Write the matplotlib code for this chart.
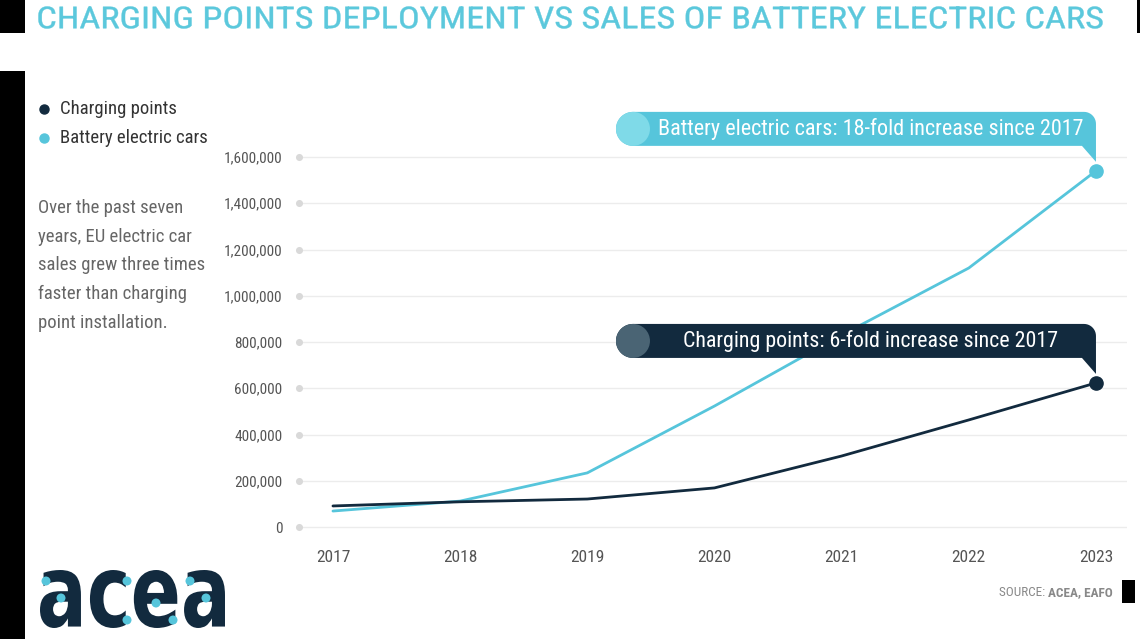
import numpy as np
import matplotlib
matplotlib.use("Agg")
import matplotlib.pyplot as plt
import matplotlib.patches as mpatches
import matplotlib.transforms as mtransforms
from matplotlib import font_manager as fm
from matplotlib.lines import Line2D
from matplotlib.textpath import TextPath
from matplotlib.ticker import FuncFormatter

# ---- data ----
years = [2017, 2018, 2019, 2020, 2021, 2022, 2023]
charging_points = [91000, 109000, 121000, 169000, 307000, 463000, 623000]
bev_sales = [69000, 112000, 234000, 523000, 830000, 1120000, 1540000]
y_ticks = [0, 200000, 400000, 600000, 800000, 1000000, 1200000, 1400000, 1600000]

title = "CHARGING POINTS DEPLOYMENT VS SALES OF BATTERY ELECTRIC CARS"
legend_labels = ["Charging points", "Battery electric cars"]
note = ("Over the past seven\nyears, EU electric car\nsales grew three times\n"
        "faster than charging\npoint installation.")
bev_note = "Battery electric cars: 18-fold increase since 2017"
cp_note = "Charging points: 6-fold increase since 2017"

CYAN = "#56c5db"
CYAN_LIGHT = "#7fdae8"
NAVY = "#122a3e"
NAVY_LIGHT = "#4a6474"
GREY_TXT = "#555555"

names = {f.name for f in fm.fontManager.ttflist}
NARROW = "DejaVu Sans"
for cand in ["Roboto Condensed", "Liberation Sans Narrow", "Roboto"]:
    if cand in names:
        NARROW = cand
        break

W, H = 1140, 639
fig = plt.figure(figsize=(W / 100, H / 100), dpi=100)
fig.patch.set_facecolor("white")
PIX = mtransforms.IdentityTransform()


def px(x, y):
    # pixel position measured from top-left -> figure fraction
    return x / W, 1 - y / H


# ---- main axes ----
ax = fig.add_axes([299 / W, 99 / H, 828 / W, 400 / H])
ax.set_xlim(2016.733, 2023.244)
ax.set_ylim(-56216, 1673514)
for s in ax.spines.values():
    s.set_visible(False)
ax.set_yticks(y_ticks)
ax.yaxis.set_major_formatter(FuncFormatter(lambda v, p: f"{int(v):,}"))
ax.set_xticks(years)
ax.tick_params(length=0, colors=GREY_TXT)
ax.tick_params(axis="y", pad=12)
ax.tick_params(axis="x", pad=7)
for lab in ax.get_yticklabels():
    lab.set_fontfamily(NARROW)
    lab.set_fontsize(11)
for lab in ax.get_xticklabels():
    lab.set_fontfamily(NARROW)
    lab.set_fontsize(12.5)
ax.grid(axis="y", color="#ececec", lw=1)
ax.set_axisbelow(True)
ax.scatter([ax.get_xlim()[0]] * len(y_ticks), y_ticks, s=26, color="#d9d9d9",
           clip_on=False, zorder=2, linewidths=0)

ax.plot(years, bev_sales, color=CYAN, lw=2, zorder=3, solid_capstyle="round")
ax.plot(years, charging_points, color=NAVY, lw=2, zorder=3, solid_capstyle="round")
ax.plot(years[-1], bev_sales[-1], "o", color=CYAN, ms=9.5, zorder=4, clip_on=False)
ax.plot(years[-1], charging_points[-1], "o", color=NAVY, ms=9.5, zorder=4, clip_on=False)


def bubble(xv, yv, text, color, light, fs):
    # speech bubble whose tail points at the data point (offsets in pixels)
    tr = mtransforms.ScaledTranslation(xv, yv, ax.transData)
    L, R, B, T = -480, 0, 25, 59
    r = (T - B) / 2
    rr = 12
    pts = [(L + r, B), (R - 14, B), (R, 9), (R, T - rr)]
    a = np.linspace(0, np.pi / 2, 12)
    pts += [(R - rr + rr * np.cos(t), T - rr + rr * np.sin(t)) for t in a]
    pts += [(L + r, T)]
    a = np.linspace(np.pi / 2, 3 * np.pi / 2, 24)
    pts += [(L + r + r * np.cos(t), B + r + r * np.sin(t)) for t in a]
    ax.add_patch(mpatches.Polygon(pts, closed=True, facecolor=color, edgecolor="none",
                                  transform=tr, clip_on=False, zorder=5))
    ax.add_patch(mpatches.Circle((L + r, B + r), r, facecolor=light, edgecolor="none",
                                 transform=tr, clip_on=False, zorder=6))
    ax.text(-225, B + r, text, transform=tr, ha="center", va="center",
            color="white", fontsize=fs, family=NARROW, zorder=7, clip_on=False)


bubble(years[-1], bev_sales[-1], bev_note, CYAN, CYAN_LIGHT, 15.9)
bubble(years[-1], charging_points[-1], cp_note, NAVY, NAVY_LIGHT, 15.8)


def fit_path(text, box, family, color, weight="normal", lw=0.0):
    # text drawn as a path stretched into a pixel box (x0, y0, x1, y1 from top-left)
    tp = TextPath((0, 0), text, size=100, prop=fm.FontProperties(family=family, weight=weight))
    ext = tp.get_extents()
    x0, y0, x1, y1 = box
    tr = (mtransforms.Affine2D().translate(-ext.x0, -ext.y0)
          .scale((x1 - x0) / ext.width, (y1 - y0) / ext.height)
          .translate(x0, H - y1))
    fig.add_artist(mpatches.PathPatch(tp, facecolor=color, edgecolor=color if lw else "none",
                                      lw=lw, transform=tr))


# ---- title ----
fit_path(title, (38.5, 6.5, 1102.5, 28.5), NARROW, "#5bc8dc", lw=0.3)

# ---- legend ----
leg_colors = [NAVY, CYAN]
for i, (lab, c) in enumerate(zip(legend_labels, leg_colors)):
    yy = 109 + 29 * i
    fig.add_artist(Line2D([44 / W], [1 - yy / H], marker="o", ms=6.5, color=c,
                          transform=fig.transFigure))
    fig.text(*px(60, yy), lab, fontsize=13.5, family=NARROW, color="#333333",
             ha="left", va="center")

# ---- side note ----
fig.text(*px(38, 199), note, fontsize=13.5, family=NARROW, color="#666666",
         ha="left", va="top", linespacing=1.76)

# ---- source ----
src = fig.text(*px(1113, 593), "ACEA, EAFO", fontsize=9.5, family=NARROW,
               weight="bold", color="#888888", ha="right", va="center")
ax.annotate("SOURCE: ", xy=(0, 0.5), xycoords=src, ha="right", va="center",
            fontsize=9.5, family=NARROW, color="#888888", annotation_clip=False)

# ---- logo ----
fit_path("acea", (40, 570, 225, 628), "DejaVu Sans", NAVY, weight="bold")
for (dx, dy) in [(46, 581), (61, 598), (127, 581), (127, 620), (156, 603),
                 (173, 620), (190, 581), (206, 598)]:
    fig.add_artist(mpatches.Circle((dx, H - dy), 4.5, facecolor=CYAN,
                                   edgecolor="none", transform=PIX))

# ---- screenshot frame bits ----
for (x0, y0, x1, y1) in [(0, 0, 25, 33), (0, 71, 25, 639), (1137, 0, 1140, 33),
                         (1122, 580, 1135, 603)]:
    fig.add_artist(mpatches.Rectangle((x0, H - y1), x1 - x0, y1 - y0,
                                      facecolor="black", edgecolor="none",
                                      transform=PIX))

fig.savefig("out.png", dpi=100)
